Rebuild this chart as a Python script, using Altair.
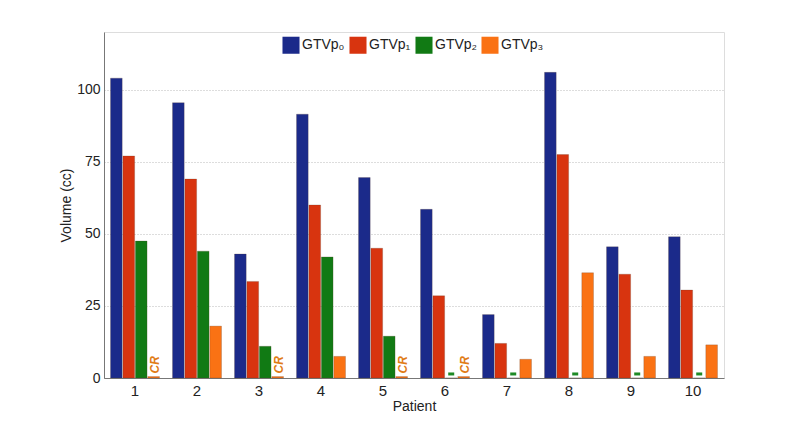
import altair as alt
import pandas as pd

patients = [str(i) for i in range(1, 11)]
series = ["GTVp₀", "GTVp₁", "GTVp₂", "GTVp₃"]
colors = ["#1b2a8a", "#d8340f", "#117a14", "#fa7214"]
gtv_p0 = [104, 95.5, 43, 91.5, 69.5, 58.5, 22, 106, 45.5, 49]
gtv_p1 = [77, 69, 33.5, 60, 45, 28.5, 12, 77.5, 36, 30.5]
gtv_p2 = [47.5, 44, 11, 42, 14.5, 0, 0, 0, 0, 0]
gtv_p3 = [0.5, 18, 0.5, 7.5, 0.5, 0.5, 6.5, 36.5, 7.5, 11.5]
cr_flag = [True, False, True, False, True, True, False, False, False, False]
y_ticks = [0, 25, 50, 75, 100]

rows = []
for i, p in enumerate(patients):
    for s, vals in zip(series, [gtv_p0, gtv_p1, gtv_p2, gtv_p3]):
        rows.append({"patient": p, "series": s, "value": vals[i],
                     "cr": bool(cr_flag[i] and s == series[3]),
                     "dash": bool(s == series[2] and vals[i] == 0)})
df = pd.DataFrame(rows)

x_enc = alt.X("patient:N", sort=patients,
              scale=alt.Scale(paddingInner=0.21, paddingOuter=0.105),
              axis=alt.Axis(title="Patient", labelAngle=0, ticks=False,
                            labelPadding=5, titlePadding=1,
                            domainColor="#777", labelFontSize=15,
                            titleFontSize=14, titleFontWeight="normal",
                            labelColor="#222", titleColor="#222"))
xo_enc = alt.XOffset("series:N", sort=series,
                     scale=alt.Scale(domain=series, paddingInner=0.06))

base = alt.Chart(df)

bars = base.mark_bar(stroke="#5a3a2a", strokeWidth=0.4, strokeOpacity=0.6).encode(
    x=x_enc,
    xOffset=xo_enc,
    y=alt.Y("value:Q", scale=alt.Scale(domain=[0, 120], nice=False),
            axis=alt.Axis(title="Volume (cc)", values=y_ticks, ticks=False,
                          labelPadding=4, titlePadding=3, grid=True,
                          gridDash=[1, 2], gridColor="#aaa", gridWidth=0.8,
                          domainColor="#777", labelFontSize=14, titleFontSize=14,
                          titleFontWeight="normal",
                          labelColor="#222", titleColor="#222")),
    color=alt.Color("series:N", sort=series,
                    scale=alt.Scale(domain=series, range=colors),
                    legend=alt.Legend(title=None, orient="none", legendX=178, legendY=4,
                                      direction="horizontal", symbolType="square",
                                      symbolSize=290, symbolStrokeWidth=0,
                                      labelFontSize=14, labelOffset=2,
                                      columnPadding=4, labelColor="#222")),
)

dashes = base.transform_filter("datum.dash").mark_tick(
    orient="horizontal", size=6, thickness=3, color="#1e8a25", opacity=1).encode(
    x=x_enc, xOffset=xo_enc, y=alt.datum(1.4))

cr_text = base.transform_filter("datum.cr").mark_text(
    text="CR", angle=270, align="left", baseline="middle", fontSize=12,
    fontWeight="bold", fontStyle="italic", color="#e07b16", dy=1).encode(
    x=x_enc, xOffset=xo_enc, y=alt.datum(1.6))

chart = alt.layer(bars, dashes, cr_text).properties(
    width=620, height=346,
    autosize=alt.AutoSizeParams(type="none"),
    padding={"left": 96, "top": 24, "right": 60, "bottom": 40},
).configure_view(stroke=None).configure(font="Liberation Sans")

chart.save("out.html", embed_options={"renderer": "svg", "actions": False})
